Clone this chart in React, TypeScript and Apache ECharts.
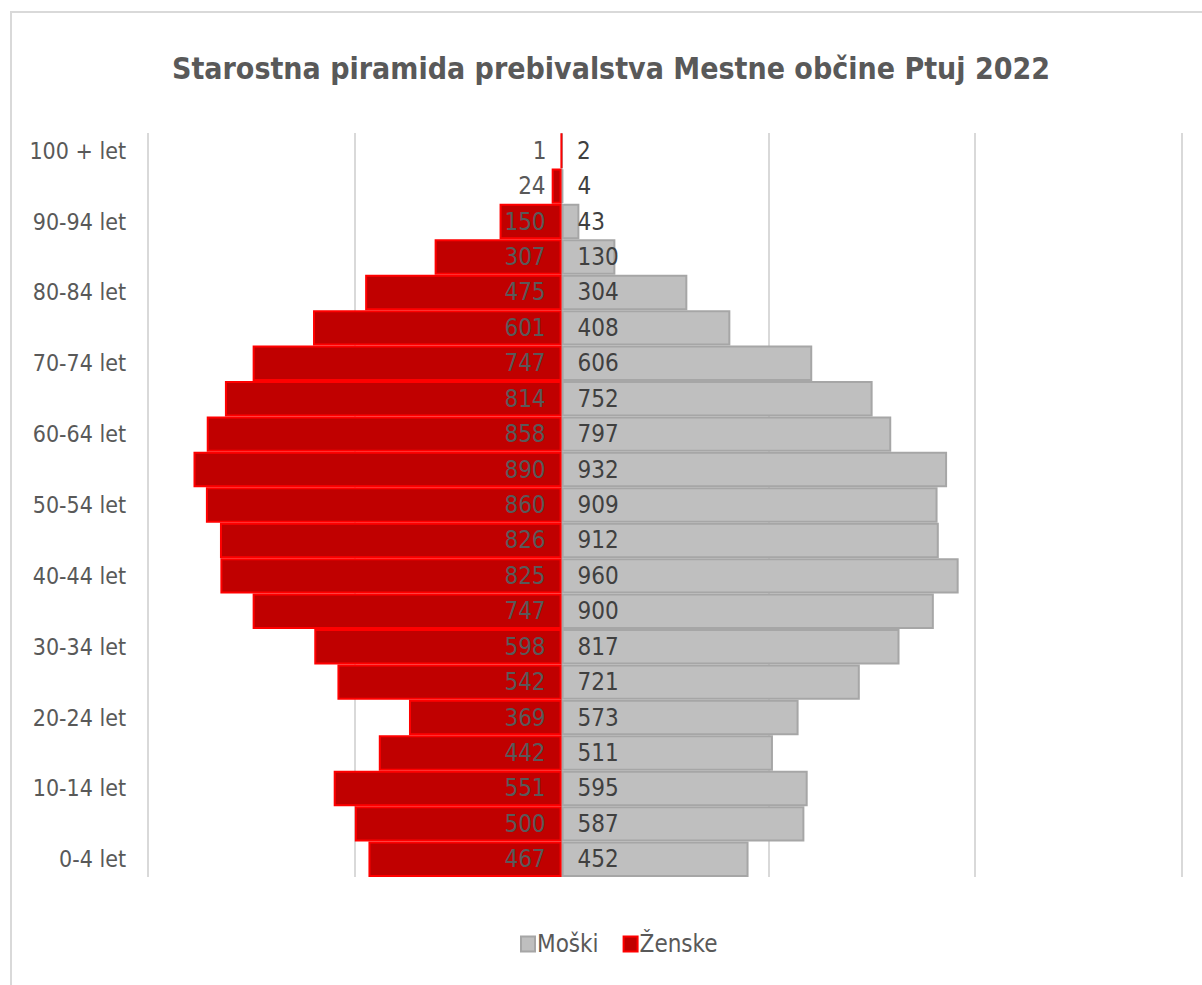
import React, { useEffect, useRef } from "react";
import * as echarts from "echarts";

const categories = [
  "0-4 let", "5-9 let", "10-14 let", "15-19 let", "20-24 let", "25-29 let",
  "30-34 let", "35-39 let", "40-44 let", "45-49 let", "50-54 let", "55-59 let",
  "60-64 let", "65-69 let", "70-74 let", "75-79 let", "80-84 let", "85-89 let",
  "90-94 let", "95-99 let", "100 + let",
];
const moski = [452, 587, 595, 511, 573, 721, 817, 900, 960, 912, 909, 932, 797, 752, 606, 408, 304, 130, 43, 4, 2];
const zenske = [467, 500, 551, 442, 369, 542, 598, 747, 825, 826, 860, 890, 858, 814, 747, 601, 475, 307, 150, 24, 1];
const title = "Starostna piramida prebivalstva Mestne občine Ptuj 2022";

const FONT = '"Liberation Sans Narrow", "DejaVu Sans Condensed", "Open Sans", sans-serif';

export default function App() {
  const ref = useRef<HTMLDivElement>(null);
  useEffect(() => {
    const chart = echarts.init(ref.current!, null, { renderer: "svg" });
    chart.setOption({
      animation: false,
      backgroundColor: "#ffffff",
      textStyle: { fontFamily: FONT },
      graphic: [
        {
          type: "rect",
          shape: { x: 11, y: 12, width: 1300, height: 1100 },
          style: { fill: "none", stroke: "#D9D9D9", lineWidth: 2 },
          silent: true,
        },
        {
          type: "text",
          x: 611,
          y: 68,
          style: {
            text: title,
            fontFamily: FONT,
            fontSize: 30,
            fontWeight: "bold",
            fill: "#595959",
            textAlign: "center",
            textVerticalAlign: "middle",
          },
        },
      ],
      legend: {
        data: ["Moški", "Ženske"],
        left: 515,
        top: 927,
        itemWidth: 14,
        itemHeight: 15,
        itemGap: 24,
        icon: "rect",
        textStyle: { fontFamily: FONT, fontSize: 24, color: "#595959", padding: [0, 0, 0, -3] },
      },
      grid: { left: 148, right: 20, top: 133, bottom: 108, containLabel: false },
      xAxis: {
        type: "value",
        min: -1000,
        max: 1500,
        interval: 500,
        axisLabel: { show: false },
        axisLine: { show: false },
        axisTick: { show: false },
        splitLine: { lineStyle: { color: "#D9D9D9", width: 2 } },
      },
      yAxis: {
        type: "category",
        data: categories,
        axisLine: { show: false },
        axisTick: { show: false },
        axisLabel: {
          interval: 1,
          margin: 22,
          fontFamily: FONT,
          fontSize: 23,
          color: "#595959",
        },
      },
      series: [
        {
          name: "Moški",
          type: "bar",
          stack: "t",
          barCategoryGap: "0%",
          data: moski,
          itemStyle: { color: "#BFBFBF", borderColor: "#A6A6A6", borderWidth: 2 },
          label: {
            show: true,
            position: "insideLeft",
            distance: 16,
            fontFamily: FONT,
            fontSize: 24,
            color: "#404040",
          },
        },
        {
          name: "Ženske",
          type: "bar",
          stack: "t",
          barCategoryGap: "0%",
          data: zenske.map((v) => -v),
          itemStyle: { color: "#C00000", borderColor: "#FF0000", borderWidth: 2 },
          label: {
            show: true,
            position: "insideRight",
            distance: 16,
            fontFamily: FONT,
            fontSize: 24,
            color: "#595959",
            formatter: (p: any) => String(Math.abs(p.value)),
          },
        },
      ],
    });
    return () => chart.dispose();
  }, []);
  return (
    <div
      ref={ref}
      style={{ position: "absolute", left: 0, top: 0, width: 1202, height: 985 }}
    />
  );
}
